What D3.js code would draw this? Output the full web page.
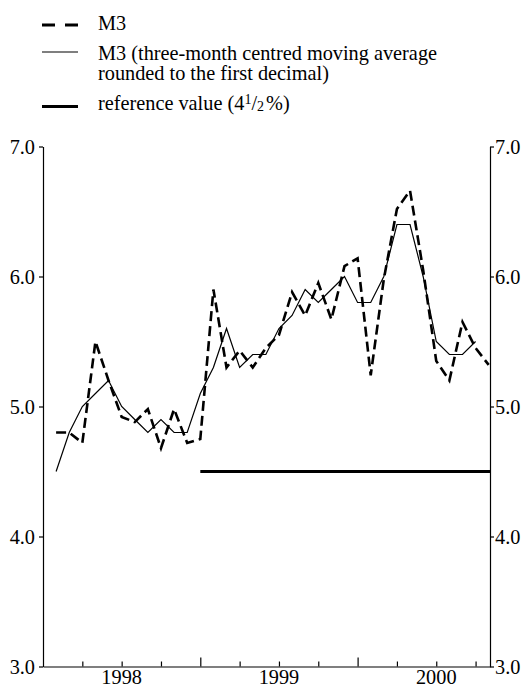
<!DOCTYPE html>
<html><head><meta charset="utf-8">
<script src="https://cdn.jsdelivr.net/npm/d3@7"></script>
<style>
body{margin:0;background:#fff}
svg{display:block}
text{font-family:"Liberation Serif","DejaVu Serif","Noto Serif",Times,serif;fill:#000}
</style>
</head><body>
<svg id="c" width="521" height="688"></svg>
<script>
// ---------- data ----------
const months = ["1998-02","1998-03","1998-04","1998-05","1998-06","1998-07","1998-08","1998-09","1998-10","1998-11","1998-12",
  "1999-01","1999-02","1999-03","1999-04","1999-05","1999-06","1999-07","1999-08","1999-09","1999-10","1999-11","1999-12",
  "2000-01","2000-02","2000-03","2000-04","2000-05","2000-06","2000-07","2000-08","2000-09","2000-10","2000-11"];
const m3 = [4.8,4.8,4.72,5.5,5.2,4.92,4.88,4.98,4.68,4.98,4.72,
  4.75,5.9,5.3,5.43,5.3,5.45,5.55,5.88,5.7,5.95,5.67,6.08,
  6.14,5.24,5.98,6.52,6.66,6.05,5.35,5.2,5.65,5.45,5.32];
const m3avg = [4.5,4.8,5.0,5.1,5.2,5.0,4.9,4.8,4.9,4.8,4.8,
  5.1,5.3,5.6,5.3,5.4,5.4,5.6,5.7,5.9,5.8,5.9,6.0,
  5.8,5.8,6.0,6.4,6.4,6.0,5.5,5.4,5.4,5.5];
const referenceValue = 4.5;
const referenceStart = "1999-01";
const yTicks = [3.0,4.0,5.0,6.0,7.0];
const yearLabels = ["1998","1999","2000"];
const legendLabels = ["M3","M3 (three-month centred moving average","rounded to the first decimal)","reference value (4"];

// ---------- helpers ----------
const FONT = '"Liberation Serif","DejaVu Serif","Noto Serif",Times,serif';
const mIndex = s => { const [yy,mm] = s.split("-").map(Number); return (yy-1998)*12 + (mm-1); };

const svg = d3.select("#c");
const x = d3.scaleLinear().domain([0, 34.1]).range([43, 490]);
const y = d3.scaleLinear().domain([3, 7]).range([666.5, 146.5]);
const FS = 20.3;

// ---------- axes ----------
const gL = svg.append("g").attr("transform", `translate(${x.range()[0]},0)`)
  .call(d3.axisLeft(y).tickValues(yTicks).tickFormat(d3.format(".1f")).tickSize(4).tickSizeOuter(0).tickPadding(4));
const gR = svg.append("g").attr("transform", `translate(${x.range()[1]},0)`)
  .call(d3.axisRight(y).tickValues(yTicks).tickFormat(d3.format(".1f")).tickSize(4).tickSizeOuter(0).tickPadding(1));
const minor = d3.range(3, 34, 3).filter(d => d % 12 !== 0);
const major = [12, 24];
const gB = svg.append("g").attr("transform", `translate(0,${y.range()[0]})`)
  .call(d3.axisBottom(x).tickValues(minor).tickFormat("").tickSize(-5).tickSizeOuter(0));
const gB2 = svg.append("g").attr("transform", `translate(0,${y.range()[0]})`)
  .call(d3.axisBottom(x).tickValues(major).tickFormat("").tickSize(-9).tickSizeOuter(0));
gB2.select(".domain").remove();
[gL, gR, gB, gB2].forEach(g => {
  g.attr("font-family", FONT);
  g.selectAll("path,line").attr("stroke", "#000").attr("stroke-width", 1.2);
  g.selectAll("text").attr("font-size", FS).attr("font-family", FONT).attr("fill", "#000");
});

svg.append("g").selectAll("text").data(yearLabels).join("text")
  .attr("x", d => x((+d - 1998) * 12 + 6))
  .attr("y", 684)
  .attr("text-anchor", "middle")
  .attr("font-family", FONT)
  .attr("font-size", FS)
  .text(d => d);

// ---------- series ----------
const line = d3.line().x(d => x(d[0])).y(d => y(d[1]));

svg.append("path")
  .datum([[mIndex(referenceStart), referenceValue], [x.domain()[1], referenceValue]])
  .attr("d", line).attr("fill", "none").attr("stroke", "#000").attr("stroke-width", 3);

svg.append("path")
  .datum(m3avg.map((v, i) => [mIndex(months[i]), v]))
  .attr("d", line).attr("fill", "none").attr("stroke", "#000").attr("stroke-width", 1.2)
  .attr("stroke-linejoin", "miter");

svg.append("path")
  .datum(m3.map((v, i) => [mIndex(months[i]), v]))
  .attr("d", line).attr("fill", "none").attr("stroke", "#000").attr("stroke-width", 2.6)
  .attr("stroke-dasharray", "10,5");

// ---------- legend ----------
const lg = svg.append("g").attr("font-family", FONT);
const lx0 = 42, lx1 = 78, tx = 98;
lg.append("line").attr("x1", lx0).attr("x2", lx1).attr("y1", 25).attr("y2", 25)
  .attr("stroke", "#000").attr("stroke-width", 3).attr("stroke-dasharray", "13,10");
lg.append("line").attr("x1", lx0).attr("x2", lx1).attr("y1", 52).attr("y2", 52)
  .attr("stroke", "#000").attr("stroke-width", 1.2);
lg.append("line").attr("x1", lx0).attr("x2", lx1).attr("y1", 106.5).attr("y2", 106.5)
  .attr("stroke", "#000").attr("stroke-width", 3);
lg.append("text").attr("x", tx).attr("y", 30).attr("font-size", FS).text(legendLabels[0]);
lg.append("text").attr("x", tx).attr("y", 60).attr("font-size", FS).text(legendLabels[1]);
lg.append("text").attr("x", tx).attr("y", 80).attr("font-size", FS).text(legendLabels[2]);
const t4 = lg.append("text").attr("x", tx).attr("y", 110).attr("font-size", FS);
t4.append("tspan").text(legendLabels[3]);
t4.append("tspan").attr("font-size", 14).attr("dy", -6).text("1");
t4.append("tspan").attr("dy", 6).text("/");
t4.append("tspan").attr("font-size", 14).attr("dy", 1).text("2");
t4.append("tspan").attr("dy", -1).attr("dx", 2).text("%)");
</script>
</body></html>
